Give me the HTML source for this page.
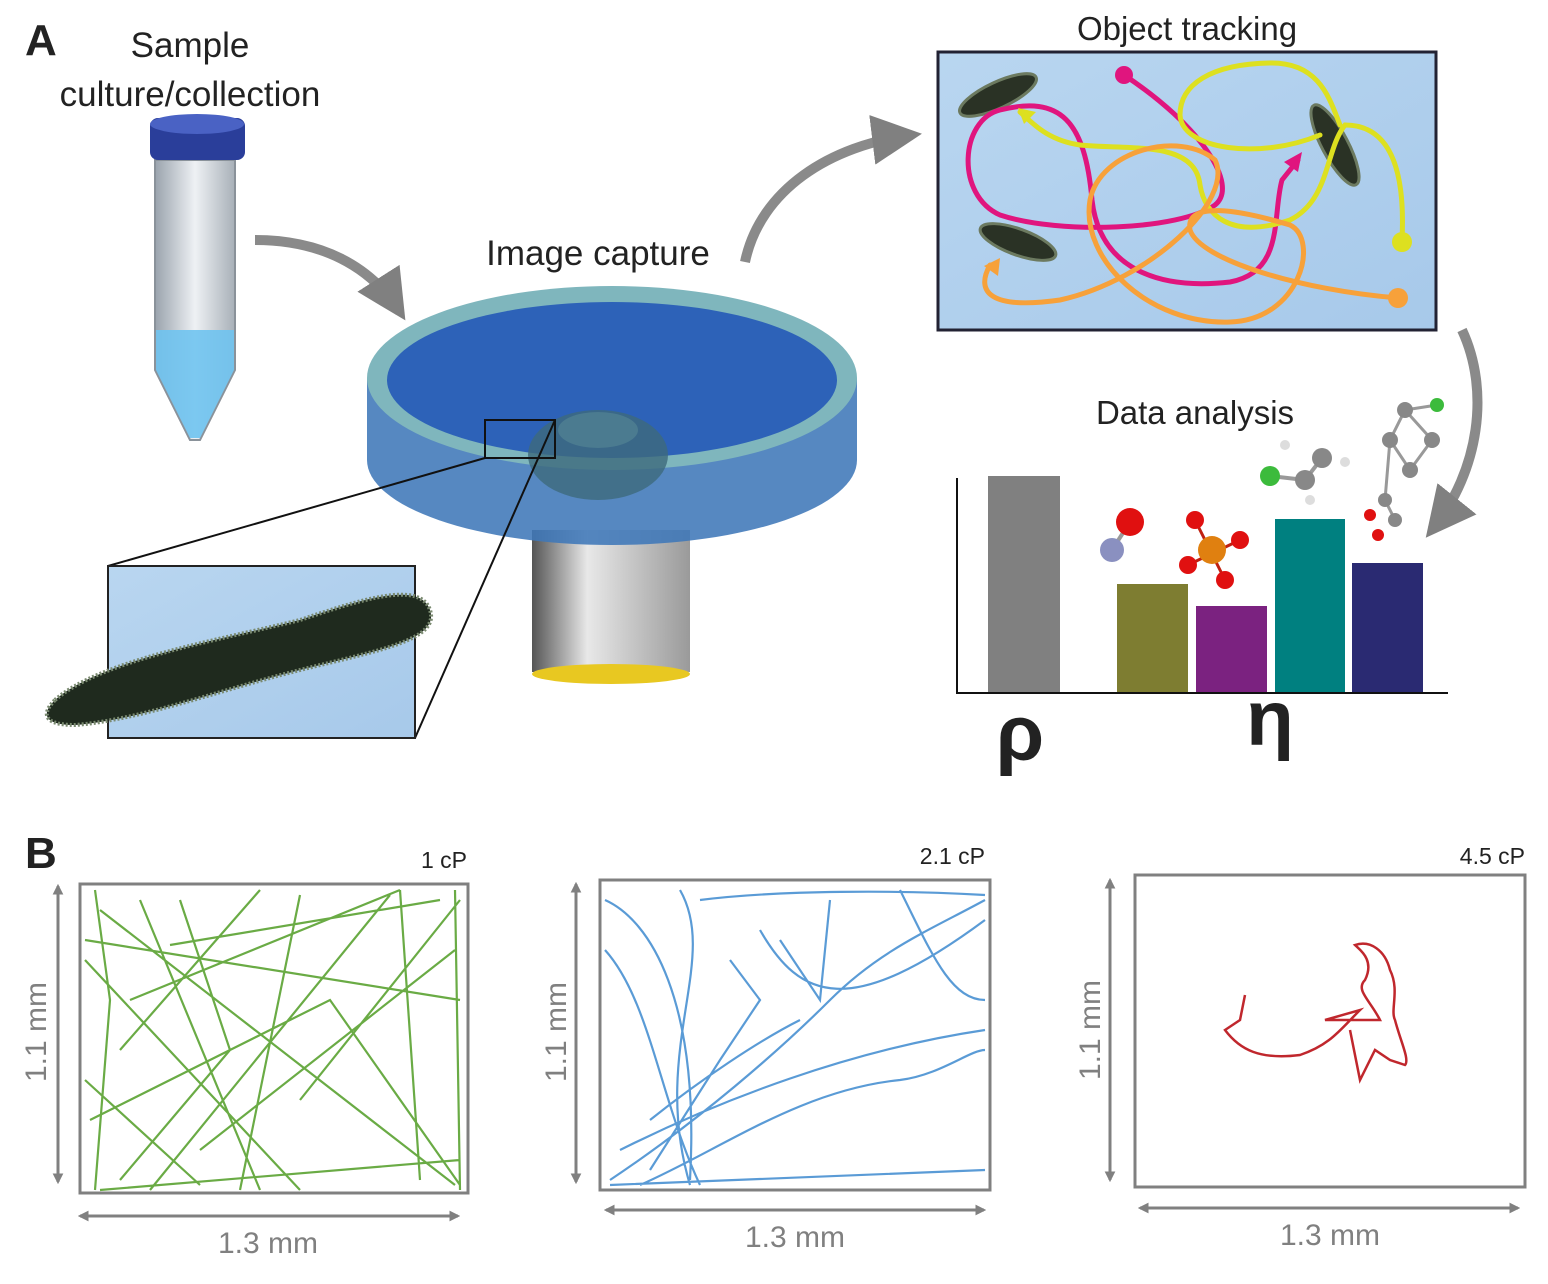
<!DOCTYPE html>
<html><head><meta charset="utf-8"><style>
body{margin:0;background:#fff;}
svg{display:block;font-family:"Liberation Sans",sans-serif;}
</style></head><body>
<svg width="1548" height="1284" viewBox="0 0 1548 1284" xmlns="http://www.w3.org/2000/svg">
<defs>
<marker id="ah" viewBox="0 0 10 10" refX="8" refY="5" markerWidth="3.6" markerHeight="3.6" orient="auto-start-reverse"><path d="M0,0 L10,5 L0,10 z" fill="#808080"/></marker>
<marker id="ah2" viewBox="0 0 10 10" refX="8" refY="5" markerWidth="5" markerHeight="5" orient="auto-start-reverse"><path d="M0,0 L10,5 L0,10 z" fill="#808080"/></marker>
<linearGradient id="tube" x1="0" x2="1"><stop offset="0" stop-color="#9aa3ad"/><stop offset="0.5" stop-color="#eef1f4"/><stop offset="1" stop-color="#a8b0b8"/></linearGradient>
<linearGradient id="obj" x1="0" x2="1"><stop offset="0" stop-color="#555"/><stop offset="0.35" stop-color="#e8e8e8"/><stop offset="1" stop-color="#9a9a9a"/></linearGradient>
<linearGradient id="water" x1="0" y1="0" x2="1" y2="1"><stop offset="0" stop-color="#b9d6f0"/><stop offset="1" stop-color="#a7c9ea"/></linearGradient>
</defs>

<text x="25" y="55" font-size="44" font-weight="bold" fill="#222">A</text>
<text x="190" y="57" font-size="35" text-anchor="middle" fill="#222">Sample</text>
<text x="190" y="106" font-size="35" text-anchor="middle" fill="#222">culture/collection</text>

<path d="M155,160 L235,160 L235,370 L200,440 L190,440 L155,370 Z" fill="url(#tube)" stroke="#8a929a" stroke-width="2"/>
<path d="M156,330 L234,330 L234,370 L200,438 L190,438 L156,370 Z" fill="#6fc3f0" opacity="0.9"/>
<rect x="150" y="118" width="95" height="42" rx="8" fill="#2a3e9a"/>
<ellipse cx="197" cy="124" rx="47" ry="10" fill="#4a62c4"/>

<path d="M255,240 C320,240 370,265 400,312" fill="none" stroke="#8a8a8a" stroke-width="10" marker-end="url(#ah2)"/>

<text x="598" y="265" font-size="35" text-anchor="middle" fill="#222">Image capture</text>
<path d="M745,262 C760,190 830,145 912,135" fill="none" stroke="#8a8a8a" stroke-width="10" marker-end="url(#ah2)"/>

<rect x="532" y="530" width="158" height="142" fill="url(#obj)"/>
<ellipse cx="611" cy="674" rx="79" ry="10" fill="#e8c821"/>
<path d="M367,378 L367,460 A245,85 0 0 0 857,460 L857,378 Z" fill="#3f78b8" opacity="0.88"/>
<ellipse cx="612" cy="378" rx="245" ry="92" fill="#7fb6bd"/>
<ellipse cx="612" cy="380" rx="225" ry="78" fill="#2d62b8"/>
<ellipse cx="598" cy="455" rx="70" ry="45" fill="#3d6a7c" opacity="0.8"/>
<ellipse cx="598" cy="430" rx="40" ry="18" fill="#4b7b90"/>
<rect x="485" y="420" width="70" height="38" fill="none" stroke="#111" stroke-width="2"/>
<line x1="485" y1="458" x2="108" y2="566" stroke="#111" stroke-width="2"/>
<line x1="555" y1="420" x2="415" y2="738" stroke="#111" stroke-width="2"/>
<rect x="108" y="566" width="307" height="172" fill="url(#water)" stroke="#222" stroke-width="2"/>
<path d="M55,700 C100,660 220,640 300,620 C360,600 420,580 430,610 C440,640 380,650 300,670 C220,690 140,720 75,725 C45,725 40,715 55,700 Z" fill="#1f2a1e" stroke="#7a8a70" stroke-width="4" stroke-dasharray="2 2"/>

<text x="1187" y="40" font-size="33" text-anchor="middle" fill="#222">Object tracking</text>
<rect x="938" y="52" width="498" height="278" fill="url(#water)" stroke="#223" stroke-width="3"/>
<g fill="#2a3225" stroke="#6c7a60" stroke-width="3">
<ellipse cx="998" cy="95" rx="42" ry="13" transform="rotate(-25 998 95)"/>
<ellipse cx="1018" cy="242" rx="40" ry="13" transform="rotate(20 1018 242)"/>
<ellipse cx="1335" cy="145" rx="45" ry="13" transform="rotate(62 1335 145)"/>
</g>
<g fill="none" stroke-width="5" stroke-linecap="round">
<path d="M1124,75 C1200,125 1240,185 1215,205 C1180,230 1060,235 1000,215 C955,195 960,120 1000,110 C1060,95 1085,120 1092,200 C1100,270 1160,290 1230,282 C1285,272 1272,215 1282,180 L1298,160" stroke="#e0157e"/>
<path d="M1402,240 C1405,180 1395,125 1345,125 C1325,150 1330,200 1290,220 C1230,240 1205,215 1200,185 C1195,140 1130,150 1080,145 C1045,140 1030,120 1020,112" stroke="#dde020"/>
<path d="M1340,125 C1330,100 1320,62 1270,63 C1210,64 1180,85 1180,115 C1182,150 1260,160 1320,135" stroke="#dde020"/>
<path d="M1398,298 C1300,290 1200,260 1190,230 C1185,200 1240,210 1290,225 C1320,240 1300,320 1230,322 C1150,325 1080,260 1090,200 C1100,150 1180,130 1215,160 C1235,200 1150,280 1060,300 C990,310 975,292 990,265" stroke="#f7a13a"/>
</g>
<circle cx="1124" cy="75" r="9" fill="#e0157e"/>
<circle cx="1402" cy="242" r="10" fill="#dde020"/>
<circle cx="1398" cy="298" r="10" fill="#f7a13a"/>
<path d="M1018,108 l18,4 l-12,12 z" fill="#dde020"/>
<path d="M1302,152 l-4,20 l-14,-10 z" fill="#e0157e"/>
<path d="M1000,258 l-2,18 l-14,-10 z" fill="#f7a13a"/>

<path d="M1462,330 C1490,390 1480,470 1432,530" fill="none" stroke="#8a8a8a" stroke-width="10" marker-end="url(#ah2)"/>

<text x="1195" y="424" font-size="33" text-anchor="middle" fill="#222">Data analysis</text>
<rect x="988" y="476" width="72" height="217" fill="#808080"/>
<rect x="1117" y="584" width="71" height="109" fill="#7e7d31"/>
<rect x="1196" y="606" width="71" height="87" fill="#7b2280"/>
<rect x="1275" y="519" width="70" height="174" fill="#008080"/>
<rect x="1352" y="563" width="71" height="130" fill="#2a2a72"/>
<path d="M957,478 L957,693 L1448,693" fill="none" stroke="#111" stroke-width="2"/>
<line x1="1112" y1="550" x2="1128" y2="525" stroke="#999" stroke-width="4"/>
<circle cx="1112" cy="550" r="12" fill="#8a90c0"/><circle cx="1130" cy="522" r="14" fill="#e01010"/>
<g stroke="#c02010" stroke-width="3"><line x1="1195" y1="520" x2="1225" y2="580"/><line x1="1188" y1="565" x2="1240" y2="540"/></g>
<circle cx="1212" cy="550" r="14" fill="#e08010"/>
<circle cx="1195" cy="520" r="9" fill="#e01010"/><circle cx="1240" cy="540" r="9" fill="#e01010"/><circle cx="1188" cy="565" r="9" fill="#e01010"/><circle cx="1225" cy="580" r="9" fill="#e01010"/>
<g stroke="#999" stroke-width="4"><line x1="1270" y1="476" x2="1305" y2="480"/><line x1="1305" y1="480" x2="1322" y2="458"/></g>
<circle cx="1270" cy="476" r="10" fill="#3cbb3c"/><circle cx="1305" cy="480" r="10" fill="#888"/><circle cx="1322" cy="458" r="10" fill="#888"/><circle cx="1310" cy="500" r="5" fill="#ddd"/><circle cx="1285" cy="445" r="5" fill="#ddd"/><circle cx="1345" cy="462" r="5" fill="#ddd"/>
<g stroke="#999" stroke-width="3" fill="none"><path d="M1405,410 L1432,440 L1410,470 L1390,440 Z M1405,410 L1437,405 M1390,440 L1385,500 L1395,520"/></g>
<circle cx="1405" cy="410" r="8" fill="#888"/><circle cx="1390" cy="440" r="8" fill="#888"/><circle cx="1410" cy="470" r="8" fill="#888"/><circle cx="1432" cy="440" r="8" fill="#888"/><circle cx="1437" cy="405" r="7" fill="#3cbb3c"/><circle cx="1385" cy="500" r="7" fill="#888"/><circle cx="1395" cy="520" r="7" fill="#888"/><circle cx="1370" cy="515" r="6" fill="#e01010"/><circle cx="1378" cy="535" r="6" fill="#e01010"/>
<text x="1020" y="760" font-size="78" font-weight="bold" text-anchor="middle" fill="#222">ρ</text>
<text x="1270" y="745" font-size="78" font-weight="bold" text-anchor="middle" fill="#222">η</text>

<text x="25" y="868" font-size="44" font-weight="bold" fill="#222">B</text>
<g font-size="23" fill="#222" text-anchor="end">
<text x="467" y="868">1 cP</text><text x="985" y="864">2.1 cP</text><text x="1525" y="864">4.5 cP</text>
</g>
<g fill="none" stroke="#808080" stroke-width="3">
<rect x="80" y="884" width="388" height="309"/>
<rect x="600" y="880" width="390" height="310"/>
<rect x="1135" y="875" width="390" height="312"/>
<line x1="58" y1="886" x2="58" y2="1182" marker-start="url(#ah)" marker-end="url(#ah)"/>
<line x1="80" y1="1216" x2="458" y2="1216" marker-start="url(#ah)" marker-end="url(#ah)"/>
<line x1="576" y1="884" x2="576" y2="1182" marker-start="url(#ah)" marker-end="url(#ah)"/>
<line x1="606" y1="1210" x2="984" y2="1210" marker-start="url(#ah)" marker-end="url(#ah)"/>
<line x1="1110" y1="880" x2="1110" y2="1180" marker-start="url(#ah)" marker-end="url(#ah)"/>
<line x1="1140" y1="1208" x2="1518" y2="1208" marker-start="url(#ah)" marker-end="url(#ah)"/>
</g>
<g font-size="30" fill="#808080" text-anchor="middle">
<text x="268" y="1253">1.3 mm</text><text x="795" y="1247">1.3 mm</text><text x="1330" y="1245">1.3 mm</text>
<text transform="translate(46,1032) rotate(-90)">1.1 mm</text>
<text transform="translate(566,1032) rotate(-90)">1.1 mm</text>
<text transform="translate(1100,1030) rotate(-90)">1.1 mm</text>
</g>
<g fill="none" stroke="#6aab45" stroke-width="2.2">
<path d="M95,890 L110,1000 L95,1190 M85,960 L300,1190 M100,910 L455,1185 M170,945 L440,900 M130,1000 L400,890 M120,1050 L260,890 M150,1190 L390,895 M200,1150 L455,950 M90,1120 L330,1000 L460,1185 M240,1190 L300,895 M400,890 L420,1180 M85,1080 L200,1185 M455,890 L460,1190 M100,1190 L460,1160 M180,900 L230,1050 L120,1180 M300,1100 L460,900 M85,940 L460,1000 M260,1190 L140,900"/>
</g>
<g fill="none" stroke="#5a9bd6" stroke-width="2.2">
<path d="M605,950 C650,1000 660,1100 700,1185 M610,1180 C700,1120 780,1050 830,1000 C880,950 930,930 985,900 M620,1150 C720,1100 850,1050 985,1030 M640,1185 C720,1150 800,1090 900,1080 C940,1075 970,1050 985,1050 M680,890 C720,960 650,1050 690,1185 M700,900 C780,890 900,890 985,895 M730,960 L760,1000 L720,1060 L650,1170 M605,900 C650,920 700,1000 690,1180 M760,930 C800,1000 850,1020 985,920 M830,900 L820,1000 L780,940 M650,1120 C700,1080 760,1040 800,1020 M900,890 C930,950 950,1000 985,1000 M610,1185 L985,1170"/>
</g>
<path d="M1245,995 L1240,1020 L1225,1030 C1240,1050 1260,1060 1300,1055 C1330,1045 1340,1030 1360,1010 L1325,1020 L1380,1020 C1370,1000 1355,990 1365,980 C1375,960 1360,950 1355,945 C1370,940 1385,950 1390,970 C1400,990 1390,1010 1395,1020 C1400,1040 1410,1060 1405,1065 L1390,1060 L1375,1050 L1360,1080 L1355,1055 L1350,1030" fill="none" stroke="#c0272d" stroke-width="2.5"/>
</svg>
</body></html>
